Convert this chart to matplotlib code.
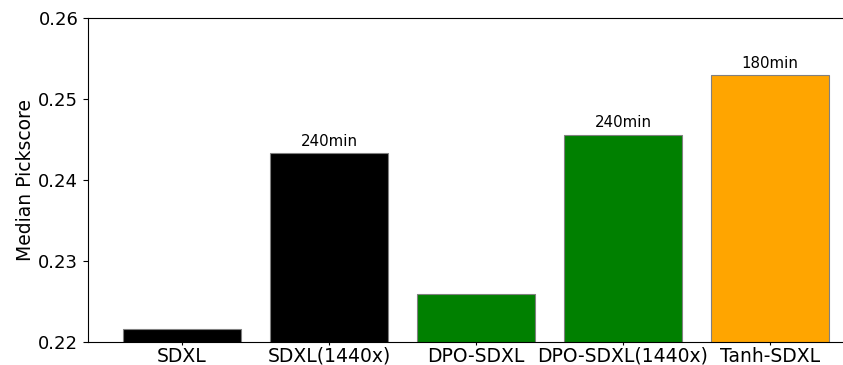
import matplotlib
matplotlib.use("Agg")
import matplotlib.pyplot as plt

# Median Pickscore per model
models = ["SDXL", "SDXL(1440x)", "DPO-SDXL", "DPO-SDXL(1440x)", "Tanh-SDXL"]
scores = [0.2216, 0.2433, 0.2259, 0.2456, 0.2530]
colors = ["black", "black", "green", "green", "orange"]
time_labels = ["", "240min", "", "240min", "180min"]

fig = plt.figure(figsize=(8.43, 3.65), dpi=100)
ax = fig.add_axes([88 / 843, 1 - 342 / 365, (864 - 88) / 843, (342 - 18) / 365])

x = list(range(len(models)))
bars = ax.bar(x, scores, width=0.8, color=colors, edgecolor="grey", linewidth=0.8)

# training-time annotations above the bars
for bar, lab in zip(bars, time_labels):
    if lab:
        ax.annotate(lab, (bar.get_x() + bar.get_width() / 2, bar.get_height()),
                    xytext=(0, 3), textcoords="offset points",
                    ha="center", va="bottom", fontsize=10.8)

ax.set_ylim(0.22, 0.26)
ax.set_yticks([0.22, 0.23, 0.24, 0.25, 0.26])
ax.set_xlim(-0.64, 4.64)
ax.set_xticks(x)
ax.set_xticklabels(models, fontsize=13.5)
ax.tick_params(axis="x", length=2.5, pad=1)
ax.tick_params(axis="y", labelsize=13)
ax.set_ylabel("Median Pickscore", fontsize=13.5, labelpad=2)

fig.savefig("out.png", dpi=100)
